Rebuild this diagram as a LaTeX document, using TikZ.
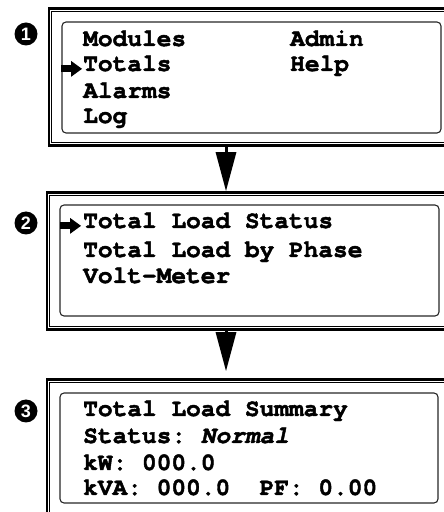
\documentclass[tikz,border=0pt]{standalone}
\usepackage{fontspec}
\setmonofont{texgyrecursor}[Extension=.otf, UprightFont=*-regular, BoldFont=*-bold, ItalicFont=*-italic, BoldItalicFont=*-bolditalic, BoldFeatures={FakeBold=1.8}, BoldItalicFeatures={FakeBold=1.8}]
\newfontfamily\digitfont{Liberation Sans}
\usetikzlibrary{positioning,arrows.meta}

\tikzset{
	pics/cursor/.style={code={
		\fill (-21,-3.5) rectangle (-10,3.5);
		\fill (-11,-8) -- (0,0) -- (-11,8) -- cycle;
	}}
}

\begin{document}
\begin{tikzpicture}[x=1pt,y=1pt,
	frame/.style={draw, line width=2.6pt, minimum width=428pt, minimum height=137pt, inner sep=0pt},
	inner/.style={line width=1pt},
	screen/.style={draw=black!85, line width=1.1pt, rounded corners=4pt, inner sep=0pt},
	lcd/.style={anchor=base west, inner sep=0pt, font=\fontsize{24.5}{28}\selectfont\ttfamily\bfseries},
	num/.style={circle, fill=black, text=white, minimum size=23pt, inner sep=0pt, font=\fontsize{18}{18}\selectfont\digitfont\bfseries},
	flow/.style={line width=3pt, -{Triangle[length=39pt,width=20pt]}}]
				\useasboundingbox (0,0) rectangle (444,512);
				\clip (0,0) rectangle (444,512);
				% outer frames
				\node[frame] (f1) at (263,435) {};
				\node[frame] (f2) at (261,251) {};
				\node[frame] (f3) at (261,64) {};
				\foreach \f in {f1,f2,f3}
					\draw[inner] ([shift={(4,-4)}]\f.north west) rectangle ([shift={(-4,4)}]\f.south east);
				% screens
				\node[screen, minimum width=379pt, minimum height=111pt] (s1) at (251.5,434.5) {};
				\node[screen, minimum width=379pt, minimum height=111pt] (s2) at (249.5,251.5) {};
				\node[screen, minimum width=378pt, minimum height=110pt] (s3) at (249,64) {};
				% step numbers
				\node[num] (n1) at (26,478) {1};
				\node[num] (n2) at (26,289) {2};
				\node[num] (n3) at (26,101) {3};
				% main menu
				\node[lcd] (mod) at (83,466) {Modules};
				\node[lcd] (adm) at (290,466) {Admin};
				\node[lcd] (tot) at (83,441) {Totals};
				\node[lcd] (hlp) at (290,441) {Help};
				\node[lcd] (alm) at (83,414) {Alarms};
				\node[lcd] (log) at (83,389) {Log};
				% totals menu
				\node[lcd] (tls) at (83,284) {Total Load Status};
				\node[lcd] (tlp) at (83,255) {Total Load by Phase};
				\node[lcd] (vmt) at (83,229) {Volt-Meter};
				% summary
				\node[lcd] (sum) at (83,96) {Total Load Summary};
				\node[lcd] (sta) at (83,69) {Status: \textit{Normal}};
				\node[lcd] (kw) at (83,42) {kW: 000.0};
				\node[lcd] (kva) at (83,17) {kVA: 000.0\ \ PF: 0.00};
				\pic at ([xshift=-1pt]tot.mid west) {cursor};
				\pic at ([xshift=-2pt]tls.mid west) {cursor};
				\coordinate (axis) at (226,0);
				\draw[flow] (f1.south -| axis) -- (f2.north -| axis);
				\draw[flow, shorten >=7pt] (f2.south -| axis) -- (f3.north -| axis);
			\end{tikzpicture}
\end{document}
